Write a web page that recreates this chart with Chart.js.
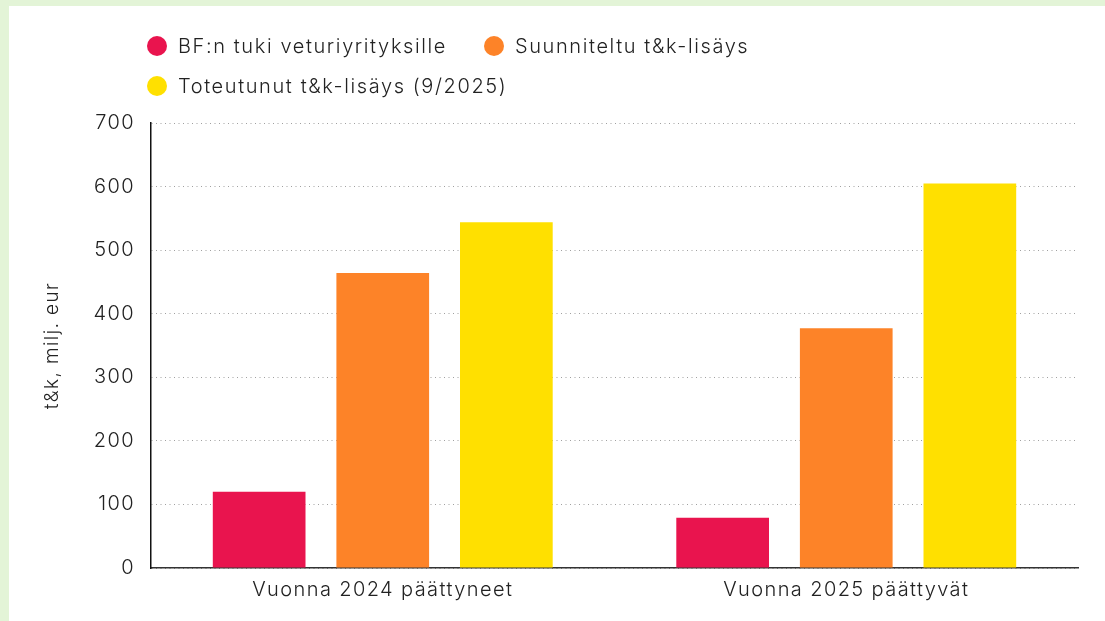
<!DOCTYPE html>
<html>
<head>
<meta charset="utf-8">
<script src="https://cdn.jsdelivr.net/npm/chart.js@4.4.1/dist/chart.umd.min.js"></script>
<style>
  html, body { margin: 0; padding: 0; }
  body { width: 1105px; height: 621px; background: #e3f4d7; position: relative; overflow: hidden; font-family: Inter, sans-serif; }
  #card { position: absolute; left: 9px; top: 6px; width: 1096px; height: 615px; background: #fff; }
  #chartWrap { position: absolute; left: 0; top: 0; width: 1096px; height: 615px; }
  #legend { position: absolute; left: 138px; top: 24px; width: 720px; }
  #legend ul { list-style: none; margin: 0; padding: 0; display: flex; flex-wrap: wrap; row-gap: 8px; column-gap: 37px; }
  #legend li { display: flex; align-items: center; height: 32px; font-size: 20px; font-weight: 300; letter-spacing: 1.6px; color: #222; }
  #legend li span.dot { width: 20px; height: 20px; border-radius: 50%; margin-right: 11px; display: inline-block; }
</style>
</head>
<body>
<div id="card">
  <div id="chartWrap"><canvas id="chart"></canvas></div>
  <div id="legend"></div>
</div>
<script>
// Data
const categories = ['Vuonna 2024 päättyneet', 'Vuonna 2025 päättyvät'];
const seriesNames = ['BF:n tuki veturiyrityksille', 'Suunniteltu t&k-lisäys', 'Toteutunut t&k-lisäys (9/2025)'];
const bfTuki = [120, 79];
const suunniteltu = [464, 377];
const toteutunut = [544, 605];
const yTicks = [0, 100, 200, 300, 400, 500, 600, 700];

const colors = ['#e9144e', '#fd8328', '#ffe000'];

// the reference font runs wider than Inter, so space the canvas text a bit
const spacing = {
  id: 'spacing',
  beforeUpdate(chart) { chart.ctx.letterSpacing = '1.4px'; },
  beforeLayout(chart) { chart.ctx.letterSpacing = '1.4px'; },
  beforeDraw(chart) { chart.ctx.letterSpacing = '1.4px'; }
};

// html legend, built from the chart's datasets
const htmlLegend = {
  id: 'htmlLegend',
  afterUpdate(chart) {
    const box = document.getElementById('legend');
    box.innerHTML = '';
    const ul = document.createElement('ul');
    chart.data.datasets.forEach(ds => {
      const li = document.createElement('li');
      const dot = document.createElement('span');
      dot.className = 'dot';
      dot.style.background = ds.backgroundColor;
      li.appendChild(dot);
      li.appendChild(document.createTextNode(ds.label));
      ul.appendChild(li);
    });
    box.appendChild(ul);
  }
};

const ctx = document.getElementById('chart').getContext('2d');
new Chart(ctx, {
  type: 'bar',
  data: {
    labels: categories,
    datasets: [
      { label: seriesNames[0], data: bfTuki, backgroundColor: colors[0] },
      { label: seriesNames[1], data: suunniteltu, backgroundColor: colors[1] },
      { label: seriesNames[2], data: toteutunut, backgroundColor: colors[2] }
    ]
  },
  options: {
    responsive: true,
    maintainAspectRatio: false,
    animation: false,
    categoryPercentage: 0.8,
    barPercentage: 0.75,
    layout: { padding: { top: 117, right: 27, left: 0, bottom: 0 } },
    plugins: {
      legend: { display: false },
      tooltip: { enabled: false }
    },
    scales: {
      x: {
        grid: { display: false, drawTicks: false },
        border: { display: true, color: '#333', width: 1.5 },
        ticks: { color: '#222', padding: 10, font: { family: 'Inter', size: 20, weight: 300 } },
        afterFit(scale) { scale.height = 53; }
      },
      y: {
        min: 0,
        max: 700,
        afterBuildTicks(scale) { scale.ticks = yTicks.map(v => ({ value: v })); },
        grid: { color: '#a0a0a0', lineWidth: 1, drawTicks: false },
        border: { display: true, color: '#111', width: 1.5, dash: [1, 3.5] },
        ticks: { color: '#222', padding: 16, font: { family: 'Inter', size: 20, weight: 300 } },
        title: {
          display: true,
          text: 't&k, milj. eur',
          color: '#222',
          font: { family: 'Inter', size: 19, weight: 300 },
          padding: { top: 32, bottom: 0 }
        },
        afterFit(scale) { scale.width = 142; }
      }
    }
  },
  plugins: [spacing, htmlLegend]
});
</script>
</body>
</html>
